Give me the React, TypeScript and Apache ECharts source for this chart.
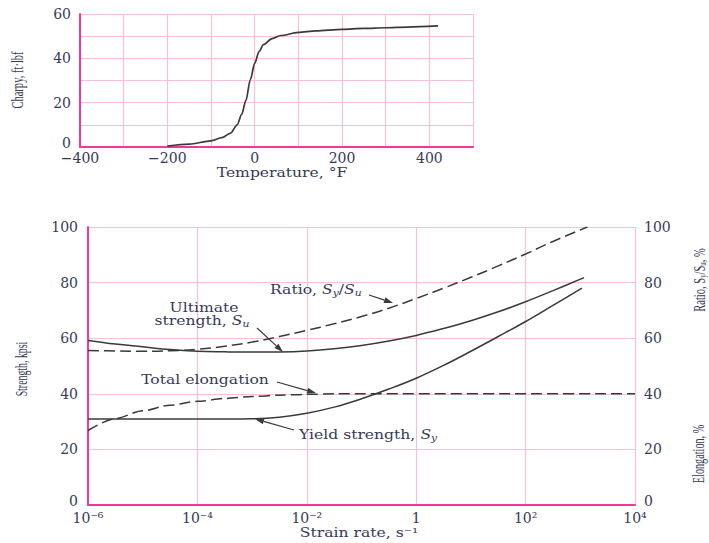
import React, { useEffect, useRef } from 'react';
import * as echarts from 'echarts';

// ---- Top chart: Charpy impact vs temperature ----
const temperature = [-200, -150, -100, -75, -55, -40, -30, -20, -10, 0, 10, 20, 40, 60, 100, 140, 200, 250, 300, 350, 420];
const charpy = [0.4, 1.3, 2.8, 4.2, 6.3, 10, 14.6, 21, 30.3, 37.7, 43, 46.2, 48.9, 50.3, 51.7, 52.4, 53.1, 53.5, 53.8, 54.1, 54.6];

// ---- Bottom chart: strength vs strain rate (s^-1) ----
const strainRate = [1e-6, 3.16e-6, 1e-5, 3.16e-5, 1e-4, 3.16e-4, 1e-3, 3.16e-3, 1e-2, 3.16e-2, 0.1, 0.316, 1, 3.16, 10, 31.6, 100, 316];
const ultimateStrength = [59.2, 57.9, 56.9, 55.9, 55.3, 55.1, 55.0, 55.05, 55.4, 56.2, 57.4, 59.0, 61.0, 63.5, 66.3, 69.5, 73.1, 77.1];
const ultimateEnd = [1.17e3, 81.8];
const yieldStrength = [30.9, 30.9, 30.9, 30.9, 30.9, 30.9, 31.0, 31.6, 33.0, 35.2, 38.2, 41.7, 45.6, 50.2, 55.3, 60.6, 66.0, 71.8];
const yieldEnd = [1.07e3, 78];
const ratioPct = [55.6, 55.4, 55.3, 55.5, 56.0, 57.1, 58.6, 60.6, 62.8, 65.2, 67.8, 70.8, 74.3, 78.0, 81.9, 86.0, 90.3, 94.8];
const ratioEnd = [1.35e3, 100];
const elongRate = [1e-6, 3.16e-6, 1e-5, 3.16e-5, 1e-4, 3.16e-4, 1e-3, 3.16e-3, 1e-2, 3.16e-2, 1e4];
const elongPct = [26.8, 31.1, 33.9, 35.9, 37.3, 38.3, 39.0, 39.5, 39.8, 40, 40];

const tempTickLabels: any = { '-400': '−400', '-200': '−200', 0: '0', 200: '200', 400: '400' };
const rateTickLabels: any = { '-6': '10⁻⁶', '-4': '10⁻⁴', '-2': '10⁻²', 0: '1', 2: '10²', 4: '10⁴' };

const MAG = '#ec3b9c';
const PINK = '#f7bfdc';
const TXT = '#353a58';
const LINE = '#3a3a3a';
const SERIF = '"DejaVu Serif", serif';
const NARROW = '"Liberation Serif", serif';

function zip(xs: number[], ys: number[], end?: number[]) {
  const out = xs.map((x, i) => [x, ys[i]]);
  if (end) out.push(end);
  return out;
}

function arrow(x1: number, y1: number, x2: number, y2: number) {
  const ang = Math.atan2(y2 - y1, x2 - x1);
  const L = 9, W = 3;
  const bx = x2 - L * Math.cos(ang), by = y2 - L * Math.sin(ang);
  const px = -Math.sin(ang) * W, py = Math.cos(ang) * W;
  return [
    { type: 'line', shape: { x1, y1, x2: bx, y2: by }, style: { stroke: LINE, lineWidth: 1.2 }, z: 10 },
    { type: 'polygon', shape: { points: [[x2, y2], [bx + px, by + py], [bx - px, by - py]] }, style: { fill: LINE }, z: 10 },
  ];
}

const subRich = {
  i: { fontFamily: SERIF, fontSize: 13, fontStyle: 'italic', fill: TXT, lineHeight: 16 },
  n: { fontFamily: SERIF, fontSize: 13, fill: TXT, lineHeight: 16 },
  s: { fontFamily: SERIF, fontSize: 9, fontStyle: 'italic', fill: TXT, lineHeight: 8, verticalAlign: 'bottom' },
};

const vRich = {
  n: { fontFamily: NARROW, fontSize: 17, fill: TXT, lineHeight: 18 },
  s: { fontFamily: NARROW, fontSize: 11, fill: TXT, lineHeight: 9, verticalAlign: 'bottom' },
};

function htext(text: string, x: number, y: number, align = 'left', rich?: any) {
  return {
    type: 'text', x, y, scaleX: 1.2, z: 10,
    style: { text, fill: TXT, fontFamily: SERIF, fontSize: 13, align, verticalAlign: 'middle', rich },
  };
}

function vtext(text: string, x: number, y: number, sx: number, rich?: any) {
  return {
    type: 'text', x, y, rotation: Math.PI / 2, scaleX: sx, z: 10,
    style: { text, fill: TXT, fontFamily: NARROW, fontSize: 17, align: 'center', verticalAlign: 'middle', rich },
  };
}

const zeroRich = { z: { color: TXT, fontFamily: SERIF, fontSize: 14, padding: [0, 0, 9, 0] } };

export default function App() {
  const ref = useRef<HTMLDivElement>(null);
  useEffect(() => {
    document.body.style.margin = '0';
    const chart = echarts.init(ref.current!, null, { renderer: 'svg' });
    const axisLabel = { color: TXT, fontFamily: SERIF, fontSize: 14 };
    const option: any = {
      animation: false,
      grid: [
        { left: 80, top: 14, width: 393, height: 133 },
        { left: 88, top: 227, width: 547, height: 278 },
      ],
      xAxis: [
        {
          type: 'value', gridIndex: 0, min: -400, max: 500, interval: 100,
          axisLine: { onZero: false, lineStyle: { color: MAG, width: 2 } },
          axisTick: { show: false },
          splitLine: { lineStyle: { color: PINK, width: 1.2 } },
          axisLabel: { ...axisLabel, margin: 4, formatter: (v: number) => tempTickLabels[v] ?? '' },
        },
        {
          type: 'log', gridIndex: 1, logBase: 10, min: 1e-6, max: 1e4, interval: 2,
          axisLine: { onZero: false, lineStyle: { color: MAG, width: 2 } },
          axisTick: { show: false },
          splitLine: { lineStyle: { color: PINK, width: 1.2 } },
          axisLabel: { ...axisLabel, margin: 6, formatter: (v: number) => rateTickLabels[Math.round(Math.log10(v))] ?? '' },
        },
      ],
      yAxis: [
        {
          type: 'value', gridIndex: 0, min: 0, max: 60, interval: 10,
          axisLine: { show: true, onZero: false, lineStyle: { color: MAG, width: 2 } },
          axisTick: { show: false },
          splitLine: { lineStyle: { color: PINK, width: 1.2 } },
          axisLabel: {
            ...axisLabel, margin: 9, rich: zeroRich,
            formatter: (v: number) => (v === 0 ? '{z|0}' : v % 20 === 0 ? String(v) : ''),
          },
        },
        {
          type: 'value', gridIndex: 1, min: 0, max: 100, interval: 20,
          axisLine: { show: true, onZero: false, lineStyle: { color: MAG, width: 2 } },
          axisTick: { show: false },
          splitLine: { lineStyle: { color: PINK, width: 1.2 } },
          axisLabel: { ...axisLabel, margin: 10, rich: zeroRich, formatter: (v: number) => (v === 0 ? '{z|0}' : String(v)) },
        },
        {
          type: 'value', gridIndex: 1, min: 0, max: 100, interval: 20, position: 'right',
          axisLine: { show: false },
          axisTick: { show: false },
          splitLine: { show: false },
          axisLabel: { ...axisLabel, margin: 9, rich: zeroRich, formatter: (v: number) => (v === 0 ? '{z|0}' : String(v)) },
        },
      ],
      series: [
        {
          type: 'line', xAxisIndex: 0, yAxisIndex: 0, data: zip(temperature, charpy), smooth: 0.3, smoothMonotone: 'x',
          showSymbol: false, lineStyle: { color: LINE, width: 1.7 },
        },
        {
          type: 'line', xAxisIndex: 1, yAxisIndex: 1, data: zip(strainRate, ultimateStrength, ultimateEnd), smooth: 0.4,
          showSymbol: false, lineStyle: { color: LINE, width: 1.5 },
        },
        {
          type: 'line', xAxisIndex: 1, yAxisIndex: 1, data: zip(strainRate, yieldStrength, yieldEnd), smooth: 0.4,
          showSymbol: false, lineStyle: { color: LINE, width: 1.5 },
        },
        {
          type: 'line', xAxisIndex: 1, yAxisIndex: 2, data: zip(strainRate, ratioPct, ratioEnd), smooth: 0.4,
          showSymbol: false, lineStyle: { color: LINE, width: 1.5, type: [11, 5] },
        },
        {
          type: 'line', xAxisIndex: 1, yAxisIndex: 2, data: zip(elongRate, elongPct), smooth: 0.3, smoothMonotone: 'x',
          showSymbol: false, lineStyle: { color: LINE, width: 1.5, type: [11, 5] },
        },
      ],
      graphic: [
        htext('Temperature, °F', 282, 172, 'center'),
        vtext('Charpy, ft·lbf', 17, 80, 0.62),
        vtext('Strength, kpsi', 21, 369, 0.58),
        vtext('{n|Ratio, S}{s|y}{n|/S}{s|u}{n|, %}', 699, 280, 0.62, vRich),
        vtext('Elongation, %', 699, 454, 0.6),
        htext('Strain rate, s⁻¹', 359, 532, 'center'),
        htext('Ratio, {i|S}{s|y}{n|/}{i|S}{s|u}', 270, 289, 'left', subRich),
        htext('Ultimate', 204, 307, 'center'),
        htext('strength, {i|S}{s|u}', 202, 320, 'center', subRich),
        htext('Total elongation', 205, 379, 'center'),
        htext('Yield strength, {i|S}{s|y}', 299, 434, 'left', subRich),
        ...arrow(369, 295, 393, 303),
        ...arrow(257, 328, 283, 352),
        ...arrow(277, 382, 316, 393),
        ...arrow(294, 430, 255, 419),
      ],
    };
    chart.setOption(option);
    return () => chart.dispose();
  }, []);
  return <div ref={ref} style={{ width: 709, height: 543 }} />;
}
